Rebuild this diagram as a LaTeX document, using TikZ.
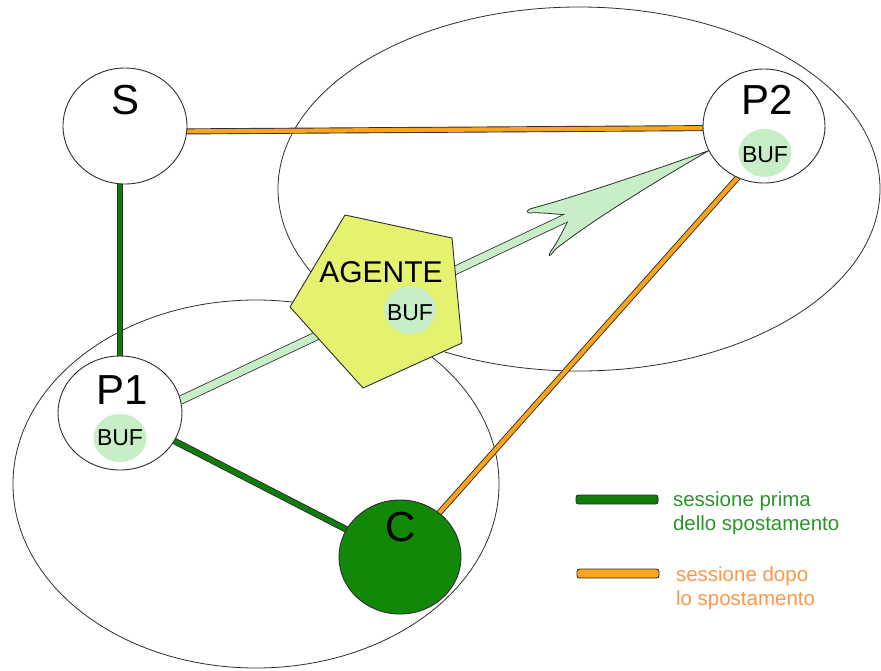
\documentclass[tikz,border=0pt]{standalone}
\usepackage{fontspec}
\setmainfont{Liberation Sans}
\usetikzlibrary{shapes.geometric,decorations.markings}

\definecolor{outline}{RGB}{45,45,45}
\definecolor{sessgreen}{RGB}{15,125,10}
\definecolor{sessorange}{RGB}{250,165,25}
\definecolor{cgreen}{RGB}{18,136,8}
\definecolor{bufgreen}{RGB}{200,238,200}
\definecolor{agentyellow}{RGB}{229,242,112}
\definecolor{leggreen}{RGB}{42,150,42}
\definecolor{legorange}{RGB}{255,150,70}

\pgfdeclarelayer{background}
\pgfsetlayers{background,main}

\begin{document}
\begin{tikzpicture}[x=1pt,y=-1pt,
  every node/.style={inner sep=0pt, outer sep=0pt},
  zone/.style={ellipse, draw=outline, line width=0.8pt},
  hostnode/.style={ellipse, draw=outline, line width=0.9pt, fill=white},
  bufzone/.style={ellipse, fill=bufgreen, minimum width=53pt, minimum height=48pt},
  buftext/.style={font=\fontsize{23}{23}\selectfont},
  bigtext/.style={font=\fontsize{42}{42}\selectfont},
  agenttext/.style={font=\fontsize{30}{30}\selectfont},
  legtext/.style={font=\fontsize{20.5}{25}\selectfont, anchor=base west},
  legbar/.style={draw=outline, line width=0.9pt, rounded corners=2.5pt},
  oldsession/.style={draw=outline, line width=0.9pt, double=sessgreen, double distance=4.8pt},
  newsession/.style={draw=outline, line width=0.9pt, double=sessorange, double distance=4.2pt},
  moveshaft/.style={draw=outline, line width=0.8pt, double=bufgreen, double distance=7.4pt},
  movehead/.style={postaction={decorate}, decoration={markings, mark=at position 1 with {
      \filldraw[draw=outline, line width=0.8pt, fill=bufgreen, line join=round]
        (0,0) .. controls (-80,-8) and (-150,-17) .. (-183,-23)
        .. controls (-192,-25) and (-193,-21) .. (-186,-19)
        .. controls (-175,-14) and (-166,-8) .. (-158,-3.7) -- (-158,3.7)
        .. controls (-166,10) and (-176,18) .. (-185,23)
        .. controls (-192,27) and (-190,29) .. (-182,24)
        .. controls (-140,14) and (-70,6) .. (0,0) -- cycle;
      \fill[bufgreen] (-161,-3.7) rectangle (-152,3.7);
  }}}
]
\useasboundingbox (0,0) rectangle (881,670);

% hosts
\node[hostnode, minimum width=124pt, minimum height=116pt] (S) at (125,126) {};
\node[bigtext] (Slabel) at (126,100) {S};

\node[hostnode, minimum width=122pt, minimum height=114pt] (P2) at (764,126) {};
\node[bigtext] (P2label) at (767,100) {P2};
\node[bufzone] (P2buf) at (765,153) {};
\node[buftext] (P2buftext) at (765,155) {BUF};

\node[hostnode, minimum width=124pt, minimum height=114pt] (P1) at (120,413) {};
\node[bigtext] (P1label) at (122,390) {P1};
\node[bufzone] (P1buf) at (120,438) {};
\node[buftext] (P1buftext) at (120,438) {BUF};

\node[ellipse, draw=outline, line width=0.9pt, fill=cgreen,
      minimum width=122pt, minimum height=114pt] (C) at (400,557) {};
\node[bigtext] (Clabel) at (401,527) {C};

% the mobile agent
\draw[draw=outline, line width=0.9pt, fill=agentyellow, line join=round]
  (345,215) -- (452,238) -- (462,343) -- (363,388) -- (290,307) -- cycle;
\node[agenttext] (agentlabel) at (381,272) {AGENTE};
\node[bufzone, minimum width=52pt] (agentbuf) at (410,310) {};
\node[buftext] (agentbuftext) at (410,313) {BUF};

\begin{pgfonlayer}{background}
  % areas of the two hosts
  \node[zone, minimum width=602pt, minimum height=364pt] (areaP2) at (579,189) {};
  \node[zone, minimum width=486pt, minimum height=368pt] (areaP1) at (256,484) {};
  % sessions
  \draw[oldsession] (P1.north |- S.south) -- (P1.north);
  \draw[oldsession] (P1) -- (C);
  \draw[newsession] (S.-5) -- (P2.182);
  \draw[newsession] (C) -- (P2.-117);
  % migration of the agent
  \draw[moveshaft, shorten >=150pt] (P1.12) -- (P2.204);
  \path[movehead] (P1.12) -- (P2.204);
\end{pgfonlayer}

% legend
\draw[legbar, fill=sessgreen] (576,495) rectangle (658,504);
\node[legtext, text=leggreen] (leg1a) at (673,506) {sessione prima};
\node[legtext, text=leggreen] (leg1b) at (673,530) {dello spostamento};
\draw[legbar, fill=sessorange] (577,569) rectangle (659,578);
\node[legtext, text=legorange] (leg2a) at (676,581) {sessione dopo};
\node[legtext, text=legorange] (leg2b) at (676,605) {lo spostamento};
\end{tikzpicture}
\end{document}
